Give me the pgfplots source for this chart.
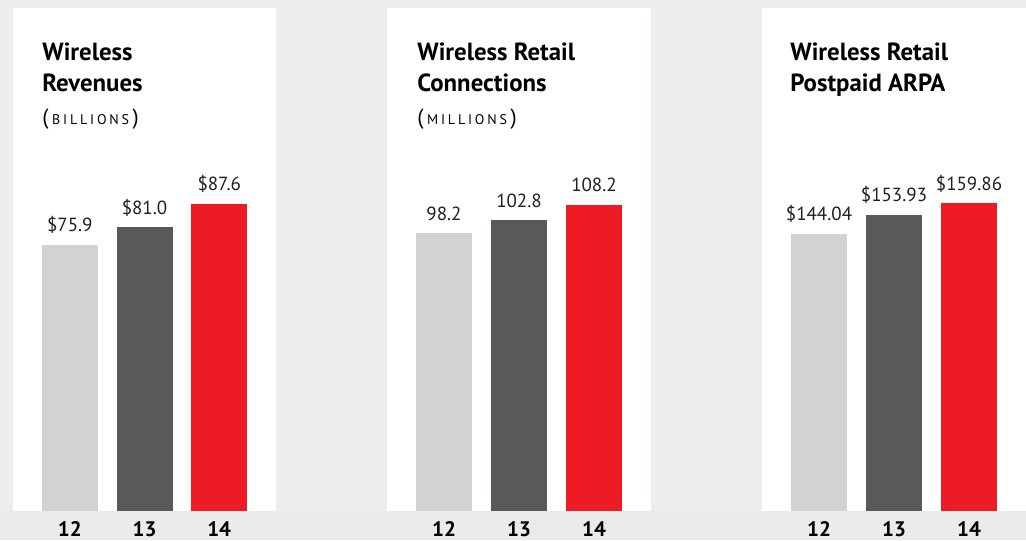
\documentclass[border=0pt]{standalone}
\usepackage{pgfplots}
\pgfplotsset{compat=1.18}
\usepackage{fontspec}
\setmainfont{PT Sans}
\newfontfamily\capsfont[LetterSpace=20]{PT Sans}

\definecolor{pagebg}{RGB}{236,237,239}
\definecolor{stripbg}{RGB}{235,235,235}
\definecolor{bar12}{RGB}{209,210,212}
\definecolor{bar13}{RGB}{88,89,91}
\definecolor{bar14}{RGB}{237,28,36}
\definecolor{txt}{RGB}{35,31,32}

\pgfplotsset{
  panel/.style={
    scale only axis, width=132pt, height=251.5pt, anchor=south west,
    ymin=0, xmin=-0.76, xmax=2.76,
    ybar, bar width=28pt,
    axis background/.style={fill=white},
    axis line style={draw=none},
    ytick=\empty, xtick={0,1,2}, xticklabels={12,13,14},
    major tick length=0pt,
    /pgf/number format/assume math mode=true,
    xticklabel style={font=\bfseries\fontsize{10.5}{12}\selectfont, text=black,
      anchor=base, yshift=-12.5pt},
    every node near coord/.append style={font=\fontsize{9.5}{11}\selectfont,
      text=txt, anchor=base, yshift=6.5pt},
    clip=false,
  },
}
\newcommand{\ttl}{\bfseries\fontsize{12.4}{16}\selectfont}
\newcommand{\sub}[1]{\fontsize{11}{13}\selectfont(\,{\capsfont\fontsize{7}{8}\selectfont #1}\,)}

\begin{document}
\begin{tikzpicture}
  \useasboundingbox (0,0) rectangle (513pt,270pt);
  \fill[pagebg] (0,0) rectangle (513pt,270pt);
  \fill[stripbg] (0,0) rectangle (513pt,14.5pt);

  % panel 1: revenues
  \begin{axis}[panel, at={(6.5pt,14.5pt)}, width=131.5pt, ymax=143.5,
      nodes near coords={\$\pgfmathprintnumber[fixed,fixed zerofill,precision=1]{\pgfplotspointmeta}}]
    \addplot[fill=bar12, draw=none, bar shift=0pt] coordinates {(0,75.9)};
    \addplot[fill=bar13, draw=none, bar shift=0pt] coordinates {(1,81.0)};
    \addplot[fill=bar14, draw=none, bar shift=0pt] coordinates {(2,87.6)};
  \end{axis}

  % panel 2: connections
  \begin{axis}[panel, at={(193.5pt,14.5pt)}, ymax=177.7,
      nodes near coords={\pgfmathprintnumber[fixed,fixed zerofill,precision=1]{\pgfplotspointmeta}}]
    \addplot[fill=bar12, draw=none, bar shift=0pt] coordinates {(0,98.2)};
    \addplot[fill=bar13, draw=none, bar shift=0pt] coordinates {(1,102.8)};
    \addplot[fill=bar14, draw=none, bar shift=0pt] coordinates {(2,108.2)};
  \end{axis}

  % panel 3: ARPA
  \begin{axis}[panel, at={(381pt,14.5pt)}, ymax=261.3,
      nodes near coords={\$\pgfmathprintnumber[fixed,fixed zerofill,precision=2]{\pgfplotspointmeta}}]
    \addplot[fill=bar12, draw=none, bar shift=0pt] coordinates {(0,144.04)};
    \addplot[fill=bar13, draw=none, bar shift=0pt] coordinates {(1,153.93)};
    \addplot[fill=bar14, draw=none, bar shift=0pt] coordinates {(2,159.86)};
  \end{axis}

  % titles
  \begin{scope}[every node/.style={anchor=base west, inner sep=0pt, text=black}]
    \node[font=\ttl] at (21pt,239.6pt) {Wireless};
    \node[font=\ttl] at (21pt,224pt) {Revenues};
    \node at (21pt,207.5pt) {\sub{BILLIONS}};
    \node[font=\ttl] at (208.5pt,239.6pt) {Wireless Retail};
    \node[font=\ttl] at (208.5pt,224pt) {Connections};
    \node at (208.5pt,207.5pt) {\sub{MILLIONS}};
    \node[font=\ttl] at (395pt,239.6pt) {Wireless Retail};
    \node[font=\ttl] at (395pt,224pt) {Postpaid ARPA};
  \end{scope}
\end{tikzpicture}
\end{document}
